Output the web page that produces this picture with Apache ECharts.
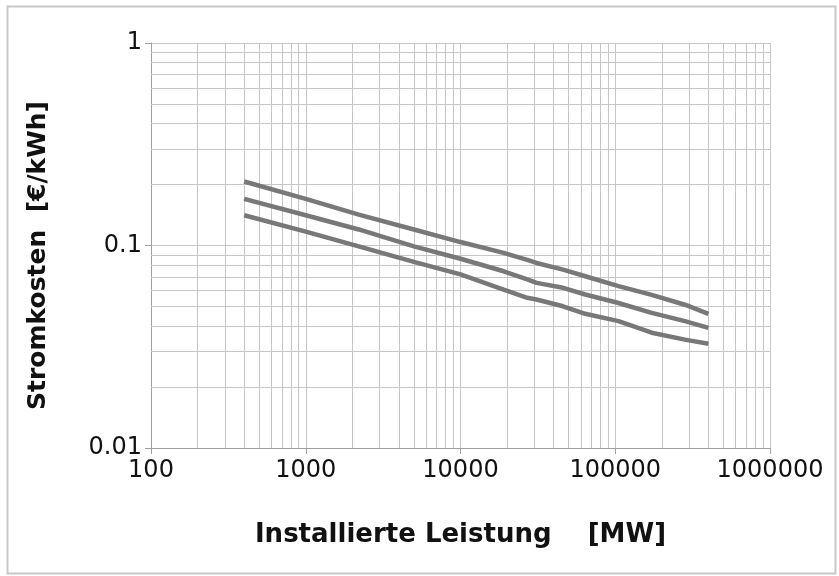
<!DOCTYPE html>
<html>
<head>
<meta charset="utf-8">
<script src="https://cdn.jsdelivr.net/npm/echarts@6/dist/echarts.min.js"></script>
<style>
html,body{margin:0;padding:0;background:#fff;}
#c{width:839px;height:576px;}
</style>
</head>
<body>
<div id="c"></div>
<script>
// Installed capacity [MW]
const capacity = [400, 1000, 2200, 5000, 10000, 19000, 27000, 31000, 46000, 64000, 105000, 172000, 282000, 400000];
// Electricity cost [€/kWh]
const costHigh = [0.207, 0.170, 0.142, 0.120, 0.104, 0.092, 0.085, 0.082, 0.076, 0.0705, 0.063, 0.057, 0.051, 0.046];
const costMid  = [0.170, 0.141, 0.120, 0.099, 0.086, 0.0746, 0.068, 0.0654, 0.0618, 0.0573, 0.052, 0.0465, 0.0423, 0.0392];
const costLow  = [0.141, 0.117, 0.099, 0.083, 0.072, 0.0606, 0.0552, 0.0541, 0.0501, 0.046, 0.0423, 0.0371, 0.0343, 0.0327];

// Minor gridline positions (log-scale sub-decades)
const xMinor = [200,300,400,500,600,700,800,900,
  2000,3000,4000,5000,6000,7000,8000,9000,
  20000,30000,40000,50000,60000,70000,80000,90000,
  200000,300000,400000,500000,600000,700000,800000,900000];
const yMinor = [0.02,0.03,0.04,0.05,0.06,0.07,0.08,0.09,
  0.2,0.3,0.4,0.5,0.6,0.7,0.8,0.9];

const xName = 'Installierte Leistung    [MW]';
const yName = 'Stromkosten  [€/kWh]';

const lineColor = '#787878';
const gridColor = '#c6c6c6';
const font = 'DejaVu Sans';

function pairs(ys){ return capacity.map((x,i)=>[x, ys[i]]); }

const chart = echarts.init(document.getElementById('c'), null, {renderer:'canvas'});
chart.setOption({
  animation:false,
  backgroundColor:'#fff',
  graphic:[{
    type:'rect', left:5, top:4, shape:{width:828, height:567},
    style:{fill:'none', stroke:'#c8c8c8', lineWidth:2}, silent:true, z:-1
  }],
  grid:{left:151, right:69, top:43, bottom:128, containLabel:false},
  xAxis:{
    type:'log', logBase:10, min:100, max:1000000,
    name:xName, nameLocation:'middle', nameGap:74,
    nameTextStyle:{fontFamily:font, fontWeight:'bold', fontSize:26, color:'#111'},
    axisLine:{show:true, lineStyle:{color:'#a0a0a0', width:1}},
    axisTick:{show:true, length:6, lineStyle:{color:'#a0a0a0'}},
    axisLabel:{fontFamily:font, fontSize:24, color:'#111', margin:11,
      formatter:v=>String(Math.round(v))},
    splitLine:{show:true, lineStyle:{color:gridColor, width:1}}
  },
  yAxis:{
    type:'log', logBase:10, min:0.01, max:1,
    name:yName, nameLocation:'middle', nameGap:100,
    nameTextStyle:{fontFamily:font, fontWeight:'bold', fontSize:25, color:'#111', padding:[0,20,0,0]},
    axisLine:{show:true, lineStyle:{color:'#a0a0a0', width:1}},
    axisTick:{show:true, length:6, lineStyle:{color:'#a0a0a0'}},
    axisLabel:{fontFamily:font, fontSize:24, color:'#111', margin:9,
      formatter:v=>String(parseFloat(v.toPrecision(1)))},
    splitLine:{show:true, lineStyle:{color:gridColor, width:1}}
  },
  series:[
    {type:'line', data:pairs(costHigh), showSymbol:false, symbol:'none',
      lineStyle:{color:lineColor, width:4.5}, z:5,
      markLine:{silent:true, symbol:'none', label:{show:false}, animation:false,
        lineStyle:{color:gridColor, width:1, type:'solid'}, z:1,
        data: xMinor.map(v=>({xAxis:v})).concat(yMinor.map(v=>({yAxis:v})))}
    },
    {type:'line', data:pairs(costMid), showSymbol:false, symbol:'none',
      lineStyle:{color:lineColor, width:4.5}, z:5},
    {type:'line', data:pairs(costLow), showSymbol:false, symbol:'none',
      lineStyle:{color:lineColor, width:4.5}, z:5}
  ]
});
</script>
</body>
</html>
